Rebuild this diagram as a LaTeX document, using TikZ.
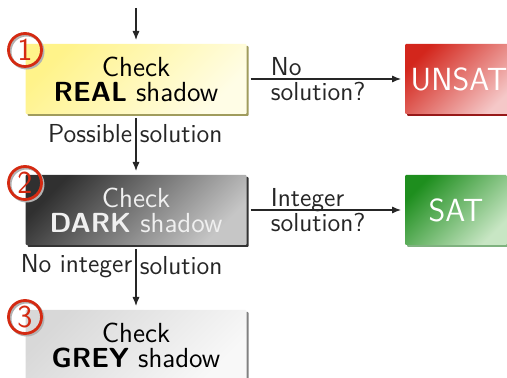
\documentclass[tikz,border=0pt]{standalone}
\usepackage{tikz}
\usetikzlibrary{arrows.meta,positioning,calc,shadows}
\renewcommand{\familydefault}{\sfdefault}

\definecolor{realtop}{HTML}{FFF38A}
\definecolor{realbot}{HTML}{FFFDE6}
\definecolor{darktop}{HTML}{303030}
\definecolor{darkbot}{HTML}{C6C6C6}
\definecolor{greytop}{HTML}{D8D8D8}
\definecolor{greybot}{HTML}{F8F8F8}
\definecolor{unsattop}{HTML}{D3261C}
\definecolor{unsatbot}{HTML}{F5C8C8}
\definecolor{sattop}{HTML}{1E8E1E}
\definecolor{satbot}{HTML}{C8E6C4}
\definecolor{numred}{HTML}{D42A12}

\begin{document}
\begin{tikzpicture}[x=0.5pt,y=-0.5pt,
	font=\fontsize{13}{12.5}\selectfont,
	shadebox/.style={inner sep=0pt,outer sep=2pt,align=center,minimum height=35pt,rounded corners=0.5pt},
	checkbox/.style={shadebox,minimum width=110.5pt,font=\fontsize{13.8}{12.5}\selectfont},
	realbox/.style={checkbox,top color=realtop,bottom color=realbot,shading angle=45,
		drop shadow={shadow xshift=1pt,shadow yshift=-1pt,fill=olive!80!black,opacity=0.7}},
	darkbox/.style={checkbox,top color=darktop,bottom color=darkbot,shading angle=45,text=white!94!black,
		drop shadow={shadow xshift=1pt,shadow yshift=-1pt,fill=black,opacity=0.8}},
	greybox/.style={checkbox,top color=greytop,bottom color=greybot,shading angle=45,
		drop shadow={shadow xshift=1pt,shadow yshift=-1pt,fill=black!70,opacity=0.7}},
	resultbox/.style={shadebox,text=white,font=\fontsize{16}{16}\selectfont},
	unsatbox/.style={resultbox,minimum width=54pt,top color=unsattop,bottom color=unsatbot,shading angle=45,
		drop shadow={shadow xshift=1pt,shadow yshift=-1pt,fill=red!55!black,opacity=0.9}},
	satbox/.style={resultbox,minimum width=51pt,top color=sattop,bottom color=satbot,shading angle=45,
		drop shadow={shadow xshift=1pt,shadow yshift=-1pt,fill=green!40!black,opacity=0.5}},
	numcirc/.style={circle,draw=numred,line width=1.4pt,text=numred,minimum size=16.5pt,inner sep=0pt,
		font=\fontsize{16}{16}\selectfont,
		preaction={draw=black!30,line width=1.4pt,transform canvas={shift={(0.8pt,-0.8pt)}}}},
	flow/.style={-{Latex[length=4.5pt,width=3.6pt]},line width=0.6pt,black!85},
	side/.style={inner xsep=1.6pt,inner ysep=0pt}]

	\useasboundingbox (0,0) rectangle (507,378);

	% the three shadows
	\node[realbox] (real) at (136,79) {Check\\\textbf{REAL} shadow};
	\node[darkbox] (dark) at (136,210) {Check\\\textbf{DARK} shadow};
	\node[greybox] (grey) at (136,345) {Check\\\textbf{GREY} shadow};

	% results
	\node[unsatbox] (unsat) at (459,79) {UNSAT};
	\node[satbox] (sat) at (456,210) {SAT};

	% step numbers
	\node[numcirc] (one) at (25,50) {1};
	\node[numcirc] (two) at (25,183) {2};
	\node[numcirc] (three) at (25,317) {3};

	% vertical flow
	\coordinate (entry) at (136,8);
	\draw[flow] (entry) -- (real);
	\draw[flow] (real) -- node[pos=0.3,left,side]{Possible} node[pos=0.3,right,side]{solution} (dark);
	\draw[flow] (dark) -- node[pos=0.3,left,side]{No integer} node[pos=0.3,right,side]{solution} (grey);

	% exits
	\draw[flow] (real) -- node[pos=0.45,align=left]{No\\solution?} (unsat);
	\draw[flow] (dark) -- node[pos=0.45,align=left]{Integer\\solution?} (sat);
\end{tikzpicture}
\end{document}
